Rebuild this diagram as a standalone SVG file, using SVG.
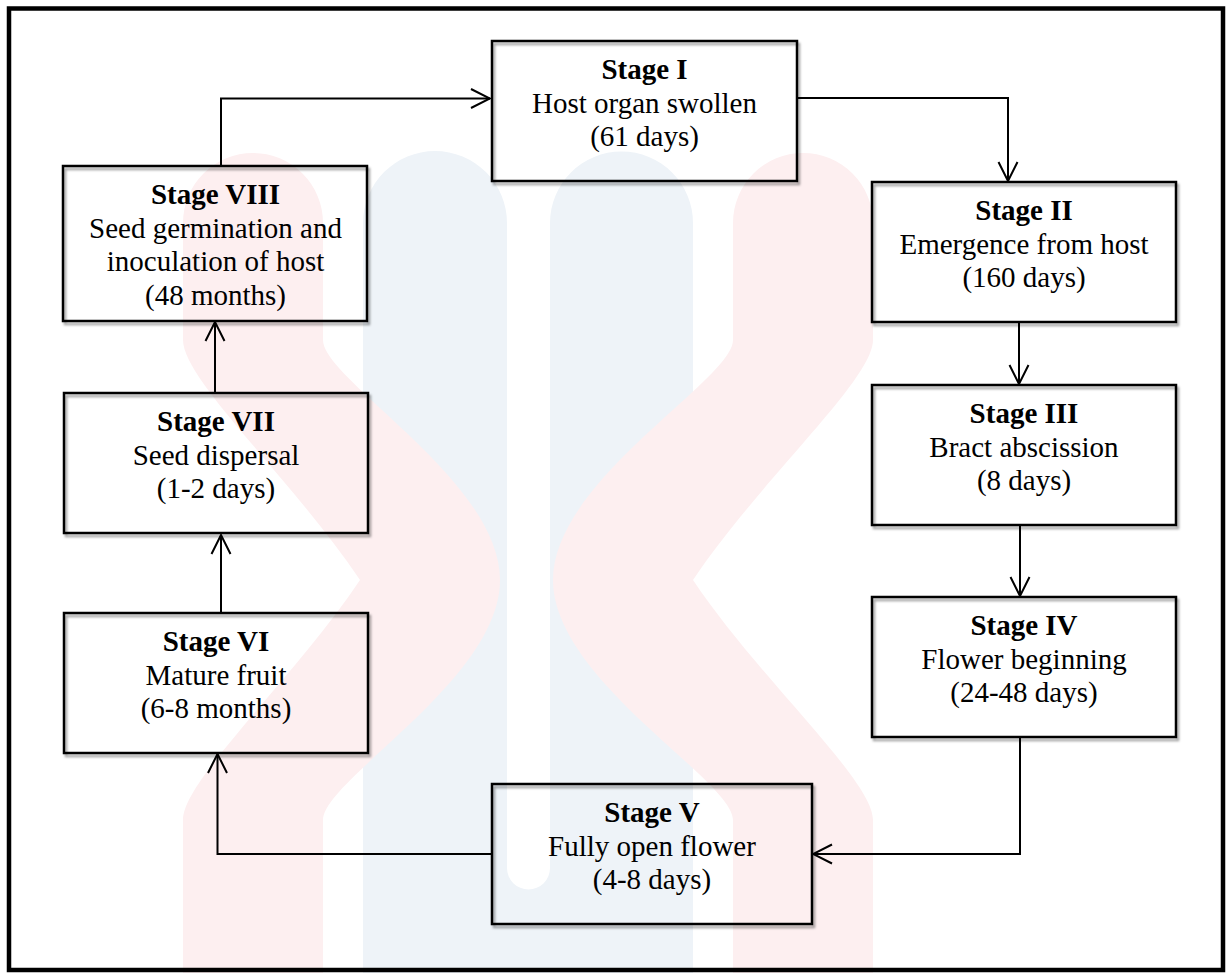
<svg xmlns="http://www.w3.org/2000/svg" width="1231" height="973" viewBox="0 0 1231 973">
  <style>
    .box { fill: none; stroke: #000; stroke-width: 2.5; filter: url(#sh); }
    .t { font-family: "Liberation Serif", "Times New Roman", serif; font-size: 29px; text-anchor: middle; fill: #000; }
    .b { font-weight: bold; }
    .c { fill: none; stroke: #000; stroke-width: 2; marker-end: url(#arr); }
  </style>
  <defs>
    <filter id="sh" x="-5%" y="-5%" width="115%" height="120%">
      <feDropShadow dx="2" dy="3" stdDeviation="1.3" flood-color="#000" flood-opacity="0.35"/>
    </filter>
    <marker id="arr" markerUnits="userSpaceOnUse" viewBox="-22 -12 24 24" refX="0" refY="0" markerWidth="24" markerHeight="24" orient="auto">
      <path d="M -19,-9.5 L 0,0 L -19,9.5" fill="none" stroke="#000" stroke-width="2"/>
    </marker>
  </defs>

  <rect x="0" y="0" width="1231" height="973" fill="#fff"/>

  <g id="watermark">
    <path d="M 363,973 V 223 A 72,72 0 0 1 507,223 V 868 A 21.5,21.5 0 0 0 550,868 V 223 A 71.5,71.5 0 0 1 693,223 V 973 Z" fill="#eef3f8"/>
    <path d="M 323,973 V 820 C 323,780 500,680 500,580 C 500,480 323,380 323,340 V 223 A 70,70 0 0 0 183,223 V 340 C 183,380 293,480 360,580 C 293,680 183,780 183,820 V 973 Z" fill="#fdeff0"/>
    <path d="M 733,973 V 820 C 733,780 553,680 553,580 C 553,480 733,380 733,340 V 223 A 70,70 0 0 1 873,223 V 340 C 873,380 760,480 693,580 C 760,680 873,780 873,820 V 973 Z" fill="#fdeff0"/>
  </g>

  <rect id="frame" x="9" y="8.5" width="1214" height="961.5" fill="none" stroke="#000" stroke-width="4.5"/>

  <g id="connectors">
    <path class="c" d="M 221,166 V 98.5 H 490"/>
    <path class="c" d="M 797,98 H 1008 V 181"/>
    <path class="c" d="M 1019,322 V 384"/>
    <path class="c" d="M 1020,525 V 596"/>
    <path class="c" d="M 1020,737 V 854 H 813"/>
    <path class="c" d="M 492,854 H 217.5 V 754"/>
    <path class="c" d="M 221,613 V 535"/>
    <path class="c" d="M 215,393 V 322"/>
  </g>

  <g id="stage1">
    <rect class="box" x="492" y="41" width="305" height="140"/>
    <text class="t b" x="644.5" y="79">Stage I</text>
    <text class="t" x="644.5" y="112.5">Host organ swollen</text>
    <text class="t" x="644.5" y="146">(61 days)</text>
  </g>
  <g id="stage2">
    <rect class="box" x="872" y="182" width="304" height="140"/>
    <text class="t b" x="1024" y="220">Stage II</text>
    <text class="t" x="1024" y="253.5">Emergence from host</text>
    <text class="t" x="1024" y="287">(160 days)</text>
  </g>
  <g id="stage3">
    <rect class="box" x="872" y="385" width="304" height="140"/>
    <text class="t b" x="1024" y="423">Stage III</text>
    <text class="t" x="1024" y="456.5">Bract abscission</text>
    <text class="t" x="1024" y="490">(8 days)</text>
  </g>
  <g id="stage4">
    <rect class="box" x="872" y="597" width="304" height="140"/>
    <text class="t b" x="1024" y="635">Stage IV</text>
    <text class="t" x="1024" y="668.5">Flower beginning</text>
    <text class="t" x="1024" y="702">(24-48 days)</text>
  </g>
  <g id="stage5">
    <rect class="box" x="492" y="784" width="320" height="140"/>
    <text class="t b" x="652" y="822">Stage V</text>
    <text class="t" x="652" y="855.5">Fully open flower</text>
    <text class="t" x="652" y="889">(4-8 days)</text>
  </g>
  <g id="stage6">
    <rect class="box" x="64" y="613" width="304" height="140"/>
    <text class="t b" x="216" y="651">Stage VI</text>
    <text class="t" x="216" y="684.5">Mature fruit</text>
    <text class="t" x="216" y="718">(6-8 months)</text>
  </g>
  <g id="stage7">
    <rect class="box" x="64" y="393" width="304" height="140"/>
    <text class="t b" x="216" y="431">Stage VII</text>
    <text class="t" x="216" y="464.5">Seed dispersal</text>
    <text class="t" x="216" y="498">(1-2 days)</text>
  </g>
  <g id="stage8">
    <rect class="box" x="63" y="166" width="304" height="155"/>
    <text class="t b" x="215.5" y="204">Stage VIII</text>
    <text class="t" x="215.5" y="237.5">Seed germination and</text>
    <text class="t" x="215.5" y="271">inoculation of host</text>
    <text class="t" x="215.5" y="304.5">(48 months)</text>
  </g>
</svg>
